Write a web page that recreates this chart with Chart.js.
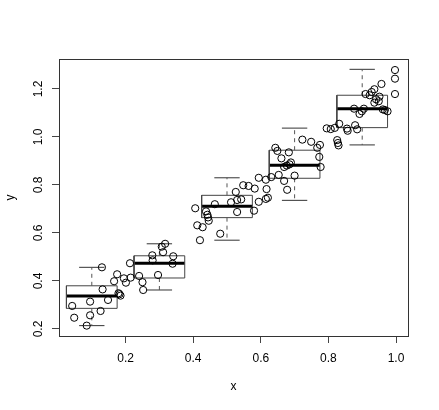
<!DOCTYPE html>
<html>
<head>
<meta charset="utf-8">
<script src="https://cdn.jsdelivr.net/npm/chart.js@4.4.1/dist/chart.umd.min.js"></script>
<style>
  body { margin: 0; background: #fff; }
  #wrap { width: 439px; height: 410px; }
</style>
</head>
<body>
<div id="wrap"><canvas id="chart" width="439" height="410"></canvas></div>
<script>
// scatter points
var pointX = [
    0.042, 0.048, 0.085, 0.095, 0.095, 0.126, 0.130, 0.132, 0.148, 0.166, 0.175, 0.179, 0.185, 0.182,
    0.195, 0.201, 0.213, 0.215, 0.240, 0.250, 0.252, 0.279, 0.280, 0.296, 0.307, 0.311, 0.317, 0.339, 0.341,
    0.406, 0.412, 0.420, 0.428, 0.438, 0.442, 0.444, 0.446, 0.464, 0.480, 0.512, 0.526, 0.530, 0.542, 0.530, 0.548, 0.564, 0.582, 0.580,
    0.594, 0.594, 0.615, 0.617, 0.615, 0.621, 0.631, 0.653, 0.669, 0.678, 0.700, 0.643, 0.649, 0.683, 0.661, 0.669, 0.677, 0.685, 0.689, 0.723, 0.749, 0.767, 0.775, 0.773, 0.777,
    0.795, 0.807, 0.819, 0.832, 0.826, 0.828, 0.830, 0.855, 0.857, 0.879, 0.885, 0.876, 0.892, 0.899, 0.905, 0.910, 0.922, 0.928, 0.936, 0.941, 0.951, 0.936, 0.949, 0.961, 0.967, 0.975, 0.957, 0.997, 0.997, 0.997
];
var pointY = [
    0.296, 0.247, 0.214, 0.257, 0.314, 0.275, 0.457, 0.365, 0.321, 0.399, 0.428, 0.349, 0.339, 0.345,
    0.411, 0.393, 0.474, 0.414, 0.421, 0.395, 0.3625, 0.507, 0.486, 0.425, 0.543, 0.520, 0.555, 0.472, 0.503,
    0.703, 0.632, 0.570, 0.624, 0.690, 0.676, 0.665, 0.651, 0.720, 0.597, 0.728, 0.771, 0.7375, 0.740, 0.6875, 0.799, 0.796, 0.785, 0.693,
    0.830, 0.730, 0.822, 0.783, 0.742, 0.747, 0.833, 0.842, 0.817, 0.780, 0.839, 0.955, 0.942, 0.936, 0.911, 0.875, 0.881, 0.886, 0.894, 0.989, 0.980, 0.955, 0.967, 0.917, 0.875,
    1.036, 1.033, 1.038, 1.055, 0.987, 0.975, 0.965, 1.035, 1.026, 1.049, 1.032, 1.118, 1.096, 1.107, 1.118, 1.179, 1.174, 1.1875, 1.199, 1.157, 1.168, 1.143, 1.149, 1.115, 1.1125, 1.107, 1.221, 1.279, 1.243, 1.179
];

// box plots
var boxCenters = [0.1, 0.3, 0.5, 0.7, 0.9];
var boxWidth = 0.15;
var whiskerLow = [0.214, 0.3625, 0.570, 0.736, 0.967];
var boxQ1 = [0.286, 0.4125, 0.664, 0.828, 1.039];
var boxMedian = [0.3375, 0.474, 0.711, 0.882, 1.118];
var boxQ3 = [0.380, 0.505, 0.757, 0.945, 1.174];
var whiskerHigh = [0.457, 0.555, 0.830, 1.037, 1.282];

// axes
var xTicks = [0.2, 0.4, 0.6, 0.8, 1.0];
var yTicks = [0.2, 0.4, 0.6, 0.8, 1.0, 1.2];

var FONT = "'Liberation Sans', Arial, Helvetica, sans-serif";

function lineSet(points, color, width, dash) {
    return {
        type: 'line',
        data: points,
        borderColor: color,
        borderWidth: width,
        borderDash: dash || [],
        pointRadius: 0,
        tension: 0,
        fill: false,
        showLine: true
    };
}

var datasets = [];
datasets.push({
    type: 'scatter',
    data: pointX.map(function(x, i) { return { x: x, y: pointY[i] }; }),
    borderColor: '#000',
    backgroundColor: 'rgba(0,0,0,0)',
    borderWidth: 1,
    pointRadius: 3.6,
    pointStyle: 'circle'
});

for (var i = 0; i < boxCenters.length; i++) {
    var c = boxCenters[i], half = boxWidth / 2, cap = boxWidth / 4;
    // whiskers
    datasets.push(lineSet([{ x: c, y: boxQ3[i] }, { x: c, y: whiskerHigh[i] }], '#555', 1, [4, 4]));
    datasets.push(lineSet([{ x: c, y: boxQ1[i] }, { x: c, y: whiskerLow[i] }], '#555', 1, [4, 4]));
    // caps
    datasets.push(lineSet([{ x: c - cap, y: whiskerHigh[i] }, { x: c + cap, y: whiskerHigh[i] }], '#333', 1));
    datasets.push(lineSet([{ x: c - cap, y: whiskerLow[i] }, { x: c + cap, y: whiskerLow[i] }], '#333', 1));
    // box
    datasets.push(lineSet([
        { x: c - half, y: boxQ1[i] }, { x: c + half, y: boxQ1[i] },
        { x: c + half, y: boxQ3[i] }, { x: c - half, y: boxQ3[i] },
        { x: c - half, y: boxQ1[i] }
    ], '#444', 1));
    // median
    datasets.push(lineSet([{ x: c - half, y: boxMedian[i] }, { x: c + half, y: boxMedian[i] }], '#000', 3));
}

// frame round the plot and y tick labels turned like R draws them
var rFrame = {
    id: 'rFrame',
    afterDraw: function(chart) {
        var ctx = chart.ctx, a = chart.chartArea, ys = chart.scales.y;
        ctx.save();
        ctx.strokeStyle = '#333';
        ctx.lineWidth = 1;
        ctx.strokeRect(Math.round(a.left) + 0.5, Math.round(a.top) + 0.5,
            Math.round(a.right - a.left), Math.round(a.bottom - a.top));
        ctx.fillStyle = '#000';
        ctx.font = '12px ' + FONT;
        ctx.textAlign = 'center';
        ctx.textBaseline = 'middle';
        ys.ticks.forEach(function(t) {
            var py = ys.getPixelForValue(t.value);
            ctx.save();
            ctx.translate(39, py);
            ctx.rotate(-Math.PI / 2);
            ctx.fillText(t.value.toFixed(1), 0, 0);
            ctx.restore();
        });
        ctx.restore();
    }
};

new Chart(document.getElementById('chart'), {
    data: { datasets: datasets },
    plugins: [rFrame],
    options: {
        responsive: false,
        animation: false,
        events: [],
        layout: { padding: { left: 0, top: 59, right: 31, bottom: 0 } },
        plugins: { legend: { display: false }, tooltip: { enabled: false } },
        scales: {
            x: {
                type: 'linear',
                min: 0.003,
                max: 1.0355,
                afterBuildTicks: function(scale) {
                    scale.ticks = xTicks.map(function(v) { return { value: v }; });
                },
                afterFit: function(scale) { scale.height = 74; },
                grid: { drawOnChartArea: false, drawTicks: true, tickLength: 7, color: '#444' },
                border: { display: false },
                ticks: {
                    color: '#000',
                    padding: 8,
                    maxRotation: 0,
                    font: { family: FONT, size: 12 },
                    callback: function(v) { return Number(v).toFixed(1); }
                },
                title: {
                    display: true,
                    text: 'x',
                    color: '#000',
                    font: { family: FONT, size: 12 },
                    padding: { top: 0, bottom: 16 }
                }
            },
            y: {
                type: 'linear',
                min: 0.1708,
                max: 1.325,
                afterBuildTicks: function(scale) {
                    scale.ticks = yTicks.map(function(v) { return { value: v }; });
                },
                afterFit: function(scale) { scale.width = 59; },
                grid: { drawOnChartArea: false, drawTicks: true, tickLength: 7, color: '#444' },
                border: { display: false },
                ticks: { display: false },
                title: {
                    display: true,
                    text: 'y',
                    color: '#000',
                    font: { family: FONT, size: 12 },
                    padding: { top: 3, bottom: 0 }
                }
            }
        }
    }
});
</script>
</body>
</html>
